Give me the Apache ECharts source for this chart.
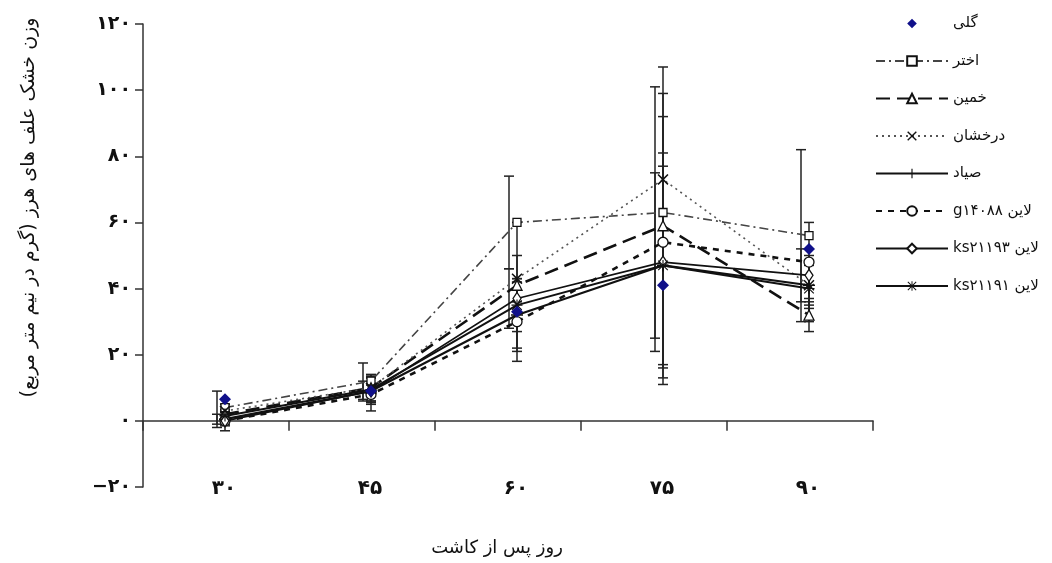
<!DOCTYPE html>
<html><head><meta charset="utf-8">
<script src="https://cdn.jsdelivr.net/npm/echarts@6/dist/echarts.min.js"></script>
<style>html,body{margin:0;padding:0;background:#fff}#c{width:1052px;height:563px;direction:rtl}</style>
</head><body><div id="c"></div>
<script>
// ---- data ----
const categories = ['۳۰','۴۵','۶۰','۷۵','۹۰'];
const xValues = [30, 45, 60, 75, 90];
const yTickLabels = ['\u200E−۲۰','۰','۲۰','۴۰','۶۰','۸۰','۱۰۰','۱۲۰'];
const seriesNames = ['گلی','اختر','خمین','درخشان','صیاد','لاین g۱۴۰۸۸','لاین ks۲۱۱۹۳','لاین ks۲۱۱۹۱'];
const xAxisName = 'روز پس از کاشت';
const yAxisName = 'وزن خشک علف های هرز (گرم در نیم متر مربع)';

const golpi      = [6.5, 9, 33, 41, 52];
const akhtar     = [4, 12, 60, 63, 56];
const akhtarErr  = [5, 5.5, 14, 38, 26];
const khomein    = [2, 10, 41, 59, 32];
const khomeinErr = [3, 4, 19, 48, 5];
const derakhshan    = [3, 10, 43, 73, 41];
const derakhshanErr = [2, 4, 7, 26, 6];
const sayyad     = [0.5, 9, 32, 47, 41];
const sayyadErr  = [2, 4, 11, 34, 7];
const g14088     = [0, 8, 30, 54, 48];
const g14088Err  = [3, 5, 12, 38, 12];
const ks21193    = [0, 9, 37, 48, 44];
const ks21193Err = [2, 3, 9, 27, 8];
const ks21191    = [1.5, 9.5, 35, 47, 40];
const ks21191Err = [2, 4, 8, 30, 10];

// ---- styles ----
const FONT = '"DejaVu Sans", sans-serif';
const INK = '#111';
const X_SYM = 'path://M1,0L5,4L9,0L10,1L6,5L10,9L9,10L5,6L1,10L0,9L4,5L0,1Z';
const PLUS_SYM = 'path://M4.4,0H5.6V4.4H10V5.6H5.6V10H4.4V5.6H0V4.4H4.4Z';
const AST_SYM = 'path://M4.5,0H5.5V10H4.5Z M0,4.5H10V5.5H0Z M1,0.3L9.7,9L9,9.7L0.3,1Z M9,0.3L9.7,1L1,9.7L0.3,9Z';
const hollow = {color:'#fff', borderColor:INK, borderWidth:1.3};
const solidInk = {color:INK, borderWidth:0};

function lineSeries(name, vals, symbol, size, lineStyle, itemStyle){
  return {
    type:'line', name, xAxisIndex:1, yAxisIndex:0, z:4,
    data: xValues.map((x,i)=>[x, vals[i]]),
    symbol, symbolSize:size, showSymbol:true, symbolKeepAspect:true,
    lineStyle, itemStyle, emphasis:{disabled:true}
  };
}
function errSeries(key, vals, errs, offset){
  return {
    type:'custom', name:key+'-err', xAxisIndex:1, yAxisIndex:0, z:2, silent:true,
    data: xValues.map((x,i)=>[x, vals[i]-errs[i], vals[i]+errs[i]]),
    encode:{x:0, y:[1,2]},
    renderItem(params, api){
      const x = api.value(0);
      const p1 = api.coord([x, api.value(1)]);
      const p2 = api.coord([x, api.value(2)]);
      const cx = p1[0] + offset, w = 5;
      const st = {stroke:'#222', lineWidth:1.5};
      return {type:'group', children:[
        {type:'line', shape:{x1:cx, y1:p1[1], x2:cx, y2:p2[1]}, style:st},
        {type:'line', shape:{x1:cx-w, y1:p1[1], x2:cx+w, y2:p1[1]}, style:st},
        {type:'line', shape:{x1:cx-w, y1:p2[1], x2:cx+w, y2:p2[1]}, style:st}
      ]};
    }
  };
}

const chart = echarts.init(document.getElementById('c'), null, {renderer:'canvas'});
chart.setOption({
  animation:false,
  backgroundColor:'#fff',
  textStyle:{fontFamily:FONT},
  grid:{left:143, right:179, top:24, bottom:76, containLabel:false, outerBoundsMode:'none'},
  legend:{
    data: seriesNames, orient:'vertical', left:870, top:11,
    itemWidth:72, itemHeight:12, itemGap:22.5,
    textStyle:{fontFamily:FONT, fontSize:15, color:INK},
    selectedMode:false
  },
  xAxis:[
    {type:'category', data:categories, boundaryGap:true,
     axisLine:{onZero:true, lineStyle:{color:'#333', width:1.5}},
     axisTick:{show:true, inside:false, length:10, alignWithLabel:false, lineStyle:{color:'#333', width:1.5}},
     axisLabel:{margin:-8, fontSize:20, fontWeight:'bold', color:INK, fontFamily:FONT, padding:[0,0,0,16]},
     splitLine:{show:false},
     name:xAxisName, nameLocation:'middle', nameGap:52,
     nameTextStyle:{fontSize:18, color:INK, fontFamily:FONT, padding:[0,22,0,0]}
    },
    {type:'value', min:21.575, max:96.575, show:false}
  ],
  yAxis:{
    type:'value', min:-20, max:120, interval:20,
    axisLine:{show:true, onZero:false, lineStyle:{color:'#333', width:1.5}},
    axisTick:{show:true, inside:false, length:8, lineStyle:{color:'#333', width:1.5}},
    axisLabel:{margin:12, fontSize:19, fontWeight:'bold', color:INK, fontFamily:FONT,
      formatter:(v,i)=>yTickLabels[i]},
    splitLine:{show:false},
    name:yAxisName, nameLocation:'middle', nameGap:104, nameRotate:90,
    nameTextStyle:{fontSize:19, color:INK, fontFamily:FONT, padding:[0,0,0,96]}
  },
  series:[
    errSeries('akhtar', akhtar, akhtarErr, -8),
    errSeries('khomein', khomein, khomeinErr, 0),
    errSeries('derakhshan', derakhshan, derakhshanErr, 0),
    errSeries('sayyad', sayyad, sayyadErr, 0),
    errSeries('g14088', g14088, g14088Err, 0),
    errSeries('ks21193', ks21193, ks21193Err, -8),
    errSeries('ks21191', ks21191, ks21191Err, 0),
    lineSeries(seriesNames[1], akhtar, 'rect', 8, {color:'#444', width:1.6, type:[9,4,2,4]}, hollow),
    lineSeries(seriesNames[2], khomein, 'triangle', 10, {color:INK, width:2.6, type:[14,7]}, hollow),
    lineSeries(seriesNames[3], derakhshan, X_SYM, 11, {color:'#555', width:1.6, type:[2,4]}, solidInk),
    lineSeries(seriesNames[4], sayyad, PLUS_SYM, 12, {color:INK, width:2.2, type:'solid'}, solidInk),
    lineSeries(seriesNames[5], g14088, 'circle', 10, {color:INK, width:2.6, type:[6,6]}, hollow),
    lineSeries(seriesNames[6], ks21193, 'diamond', [8,12], {color:INK, width:1.6, type:'solid'}, hollow),
    lineSeries(seriesNames[7], ks21191, AST_SYM, 11, {color:INK, width:2, type:'solid'}, solidInk),
    Object.assign(lineSeries(seriesNames[0], golpi, 'diamond', 12, {color:'#10108a', width:0, opacity:0}, {color:'#10108a', borderWidth:0}), {z:6})
  ]
});
</script></body></html>
